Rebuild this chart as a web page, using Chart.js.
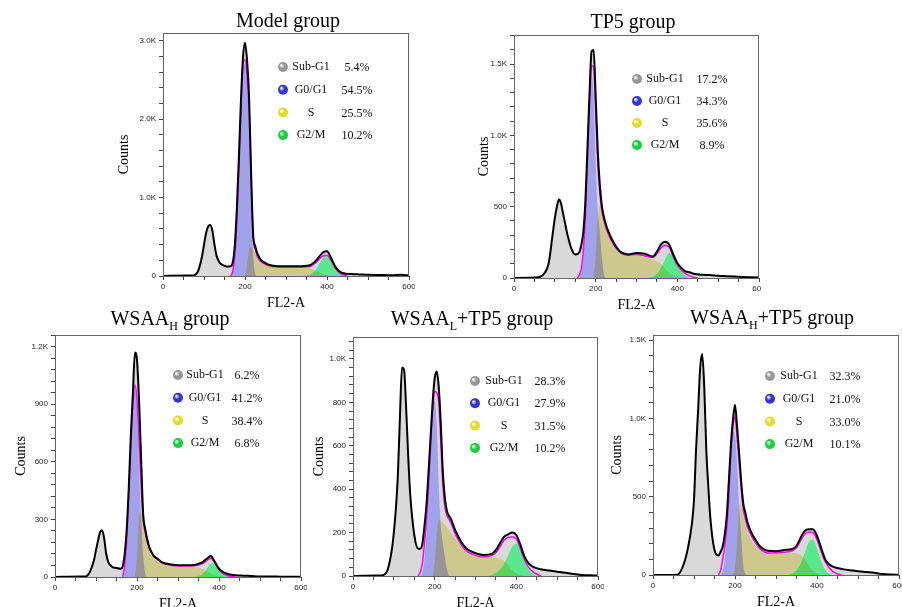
<!DOCTYPE html>
<html>
<head>
<meta charset="utf-8">
<title>Cell cycle histograms</title>
<script src="https://cdn.jsdelivr.net/npm/chart.js@4.4.0/dist/chart.umd.min.js"></script>
<style>
  html, body { margin: 0; padding: 0; background: #fff; overflow: hidden; }
  body { width: 902px; height: 607px; position: relative; }
  .title {
    position: absolute; width: 300px; text-align: center; white-space: nowrap;
    font-family: 'Liberation Serif', 'Times New Roman', serif; font-size: 20px; line-height: 23px; color: #000;
  }
  .title sub { font-size: 12px; vertical-align: -5px; line-height: 0; }
</style>
</head>
<body>
<div class="title" style="left:138px; top:9px">Model group</div>
<div class="title" style="left:483px; top:10px">TP5 group</div>
<div class="title" style="left:20px; top:307px">WSAA<sub>H</sub> group</div>
<div class="title" style="left:322px; top:307px">WSAA<sub>L</sub>+TP5 group</div>
<div class="title" style="left:622px; top:306px">WSAA<sub>H</sub>+TP5 group</div>
<script>
const phases = ['Sub-G1', 'G0/G1', 'S', 'G2/M'];

// FL2-A channels where each curve is sampled
const gridTotal = [0, 60, 75, 85, 95, 100, 105, 110, 115, 120,
  125, 130, 135, 140, 150, 160, 165, 170, 175, 180,
  185, 190, 195, 200, 205, 210, 215, 220, 225, 230,
  240, 250, 260, 270, 280, 300, 320, 340, 350, 360,
  370, 380, 390, 400, 410, 420, 430, 440, 460, 480,
  500, 520, 540, 560, 580, 600];
const gridFit = [155, 160, 165, 170, 175, 180, 185, 190, 195, 200,
  205, 210, 215, 220, 225, 230, 240, 250, 260, 270,
  280, 300, 320, 340, 350, 360, 370, 380, 390, 400,
  410, 420, 430, 440, 450, 460];
const gridG1 = [160, 165, 170, 175, 180, 185, 190, 195, 200, 205, 210, 215, 220, 225, 230, 235];
const gridS = [195, 200, 205, 210, 215, 220, 230, 240, 260, 280, 300, 320, 340, 350, 360, 370, 380, 390, 400, 410, 420];
const gridG2 = [330, 340, 350, 360, 370, 380, 390, 400, 410, 420, 430, 440, 450];

// Model group
const modelPct = [5.4, 54.5, 25.5, 10.2];
const modelTotal = [0, 5, 8, 55, 245, 400, 545, 630, 651, 590,
  420, 270, 200, 160, 130, 120, 125, 170, 380, 850,
  1500, 2225, 2780, 2975, 2750, 2280, 1300, 523, 380, 290,
  200, 165, 140, 130, 125, 125, 125, 125, 130, 140,
  180, 240, 300, 315, 230, 120, 60, 35, 25, 20,
  15, 13, 12, 10, 15, 8];
const modelFit = [null, null, 0, 60, 250, 700, 1350, 2100, 2700, 2760,
  2550, 2100, 1200, 480, 340, 250, 180, 150, 130, 120,
  115, 115, 115, 115, 118, 125, 160, 210, 255, 265,
  195, 100, 40, 15, 0, null];
const modelG1 = [0, 0, 40, 220, 680, 1320, 2050, 2650, 2700, 2450, 1900, 900, 250, 30, 0, 0];
const modelS = [0, 0, 150, 330, 375, 340, 240, 170, 130, 115, 112, 112, 108, 105, 95, 75, 50, 25, 10, 0, 0];
const modelG2 = [0, 0, 5, 20, 60, 140, 230, 260, 185, 90, 35, 10, 0];

// TP5 group
const tp5Pct = [17.2, 34.3, 35.6, 8.9];
const tp5Total = [0, 5, 35, 105, 315, 420, 500, 550, 525, 455,
  385, 315, 260, 210, 165, 180, 235, 330, 550, 920,
  1300, 1590, 1600, 1280, 900, 660, 510, 430, 375, 335,
  270, 220, 185, 172, 165, 175, 170, 150, 185, 235,
  255, 235, 165, 105, 70, 47, 40, 30, 23, 21,
  16, 13, 10, 7, 5, 3];
const tp5Fit = [0, 20, 70, 200, 440, 850, 1230, 1490, 1480, 1170,
  820, 600, 475, 410, 355, 315, 255, 210, 180, 165,
  160, 165, 155, 145, 170, 210, 230, 215, 150, 90,
  55, 30, 15, 5, 0, null];
const tp5G1 = [0, 60, 160, 400, 800, 1200, 1420, 1280, 820, 480, 330, 150, 30, 0, 0, 0];
const tp5S = [0, 150, 420, 510, 470, 410, 330, 240, 175, 155, 155, 148, 130, 115, 100, 65, 35, 15, 5, 0, 0];
const tp5G2 = [0, 10, 30, 70, 130, 175, 145, 85, 45, 15, 0, 0, 0];

// WSAA-H group
const wsaaHPct = [6.2, 41.2, 38.4, 6.8];
const wsaaHTotal = [0, 2, 3, 26, 87, 140, 190, 234, 243, 200,
  120, 78, 62, 52, 47, 43, 55, 120, 250, 470,
  740, 960, 1170, 1130, 919, 620, 330, 250, 195, 156,
  113, 95, 78, 70, 66, 61, 61, 62, 69, 78,
  95, 110, 78, 43, 26, 17, 12, 9, 7, 5,
  3, 2, 2, 1, 1, 1];
const wsaaHFit = [null, null, 0, 60, 200, 420, 680, 900, 1000, 920,
  700, 480, 300, 235, 185, 150, 110, 90, 75, 68,
  63, 58, 58, 58, 62, 70, 85, 98, 72, 38,
  18, 8, 3, 0, null, null];
const wsaaHG1 = [0, 0, 30, 150, 350, 600, 850, 980, 850, 560, 300, 110, 20, 0, 0, 0];
const wsaaHS = [0, 100, 300, 340, 290, 230, 140, 100, 72, 60, 56, 55, 52, 50, 42, 30, 17, 8, 2, 0, 0];
const wsaaHG2 = [0, 0, 5, 15, 40, 70, 70, 36, 17, 5, 0, 0, 0];

// WSAA-L + TP5 group
const wsaaLTp5Pct = [28.3, 27.9, 31.5, 10.2];
const wsaaLTp5Total = [0, 2, 5, 30, 120, 200, 310, 470, 734, 960,
  950, 780, 560, 380, 190, 125, 125, 150, 230, 330,
  480, 640, 800, 910, 942, 870, 700, 480, 360, 300,
  262, 212, 174, 143, 123, 105, 97, 102, 120, 151,
  181, 192, 200, 189, 143, 89, 58, 43, 31, 25,
  20, 15, 9, 5, 3, 2];
const wsaaLTp5Fit = [null, 0, 20, 60, 150, 260, 420, 600, 760, 850,
  845, 800, 620, 420, 320, 280, 245, 195, 160, 130,
  112, 95, 88, 95, 108, 135, 165, 178, 180, 170,
  125, 75, 40, 20, 8, 0];
const wsaaLTp5G1 = [0, 0, 20, 80, 200, 380, 580, 750, 810, 700, 420, 230, 150, 90, 30, 0];
const wsaaLTp5S = [0, 60, 180, 260, 255, 245, 225, 200, 150, 108, 92, 85, 88, 85, 80, 70, 50, 28, 12, 4, 0];
const wsaaLTp5G2 = [0, 5, 15, 30, 55, 95, 135, 148, 120, 70, 30, 10, 0];

// WSAA-H + TP5 group
const wsaaHTp5Pct = [32.3, 21.0, 33.0, 10.1];
const wsaaHTp5Total = [0, 2, 70, 170, 330, 480, 800, 1050, 1320, 1410,
  1200, 800, 560, 360, 160, 125, 150, 182, 260, 380,
  600, 830, 990, 1086, 950, 780, 600, 460, 400, 340,
  270, 225, 185, 165, 155, 152, 159, 167, 185, 238,
  281, 292, 292, 249, 174, 99, 67, 52, 39, 30,
  24, 19, 14, 6, 3, 2];
const wsaaHTp5Fit = [null, 0, 30, 100, 180, 300, 500, 780, 950, 1010,
  880, 720, 560, 420, 360, 310, 250, 205, 170, 150,
  140, 140, 145, 155, 175, 220, 260, 275, 270, 225,
  150, 85, 45, 20, 8, 0];
const wsaaHTp5G1 = [0, 0, 30, 100, 250, 450, 740, 920, 900, 720, 450, 250, 60, 10, 0, 0];
const wsaaHTp5S = [0, 50, 200, 420, 455, 390, 280, 220, 160, 130, 135, 138, 140, 138, 130, 100, 60, 25, 8, 0, 0];
const wsaaHTp5G2 = [0, 10, 30, 70, 140, 210, 225, 170, 90, 35, 10, 0, 0];

const sphereColors = ['#979797', '#3434d6', '#e2dc2c', '#1ccf3e'];

// box = plot area [left, top, right, bottom] in page pixels; cut trims the canvas' right edge
const panels = [
  { pct: modelPct, total: modelTotal, fit: modelFit, g1: modelG1, s: modelS, g2: modelG2,
    yMax: 3100, yMajor: 1000, yMinor: 200, box: [163, 33, 409, 276], titlePad: 13, legend: [120, 148, 194, 34, 22.7], cut: 0 },
  { pct: tp5Pct, total: tp5Total, fit: tp5Fit, g1: tp5G1, s: tp5S, g2: tp5G2,
    yMax: 1705, yMajor: 500, yMinor: 100, box: [514, 35, 759, 278], titlePad: 22, legend: [123, 151, 198, 44, 22], cut: 4 },
  { pct: wsaaHPct, total: wsaaHTotal, fit: wsaaHFit, g1: wsaaHG1, s: wsaaHS, g2: wsaaHG2,
    yMax: 1261, yMajor: 300, yMinor: 60, box: [55, 335, 301, 577], titlePad: 18, legend: [123, 150, 192, 40, 22.7], cut: 0 },
  { pct: wsaaLTp5Pct, total: wsaaLTp5Total, fit: wsaaLTp5Fit, g1: wsaaLTp5G1, s: wsaaLTp5S, g2: wsaaLTp5G2,
    yMax: 1101, yMajor: 200, yMinor: 40, box: [353, 337, 598, 576], titlePad: 18, legend: [122, 151, 197, 44, 22.3], cut: 0 },
  { pct: wsaaHTp5Pct, total: wsaaHTp5Total, fit: wsaaHTp5Fit, g1: wsaaHTp5G1, s: wsaaHTp5S, g2: wsaaHTp5G2,
    yMax: 1532, yMajor: 500, yMinor: 100, box: [653, 335, 899, 575], titlePad: 16, legend: [117, 146, 192, 41, 22.7], cut: 0 }
];

const tickFont = { family: 'Liberation Sans, Arial, sans-serif', size: 8 };
const axisFont = { family: 'Liberation Serif, Times New Roman, serif', size: 14 };

function pts(grid, ys) {
  return grid.map((x, i) => ({ x: x, y: ys[i] }));
}

function countLabel(v) {
  return v >= 1000 ? (v / 1000).toFixed(1) + 'K' : String(v);
}

// evenly spaced tick marks; only the major ones get a label
function tickSteps(max, step) {
  const t = [];
  for (let v = 0; v <= max + 1e-6; v += step) t.push({ value: v });
  return t;
}

// S-phase fill is multiplied onto what lies below it, so it darkens
// where it overlaps the G0/G1 and G2/M peaks
const multiplyPlugin = {
  id: 'multiplyFill',
  afterDatasetDraw(chart, args) {
    const next = chart.data.datasets[args.index - 1];
    chart.ctx.globalCompositeOperation = next && next.multiply ? 'multiply' : 'source-over';
  }
};

const framePlugin = {
  id: 'frame',
  afterDatasetsDraw(chart) {
    const { ctx, chartArea: a } = chart;
    ctx.save();
    ctx.strokeStyle = '#666';
    ctx.lineWidth = 1;
    ctx.strokeRect(a.left + 0.5, a.top + 0.5, a.right - a.left - 1, a.bottom - a.top);
    ctx.restore();
  }
};

const phaseLegend = {
  id: 'phaseLegend',
  afterDraw(chart, args, opts) {
    const { ctx, chartArea } = chart;
    const [cx, nx, px, y0, dy] = opts.pos;
    ctx.save();
    ctx.font = '12px "Liberation Serif", "Times New Roman", serif';
    ctx.textAlign = 'center';
    ctx.textBaseline = 'middle';
    phases.forEach((name, i) => {
      const y = chartArea.top + y0 + i * dy;
      const x = chartArea.left + cx;
      const g = ctx.createRadialGradient(x - 1.8, y - 1.8, 0.3, x, y, 5.5);
      g.addColorStop(0, '#ffffff');
      g.addColorStop(0.45, sphereColors[i]);
      g.addColorStop(1, sphereColors[i]);
      ctx.beginPath();
      ctx.arc(x, y, 5, 0, Math.PI * 2);
      ctx.fillStyle = g;
      ctx.fill();
      ctx.fillStyle = '#111';
      ctx.fillText(name, chartArea.left + nx, y);
      ctx.fillText(opts.values[i].toFixed(1) + '%', chartArea.left + px, y + 1);
    });
    ctx.restore();
  }
};

panels.forEach(p => {
  const [L, T, R, B] = p.box;
  const w = R - L + 66;
  const h = B - T + 42;
  const canvas = document.createElement('canvas');
  canvas.width = w;
  canvas.height = h;
  canvas.style.cssText = 'position:absolute;left:' + (L - 60) + 'px;top:' + (T - 6) + 'px;width:' + w + 'px;height:' + h + 'px;' +
    'clip-path:inset(0 ' + p.cut + 'px 0 0)';
  document.body.insertBefore(canvas, document.body.firstChild);

  const area = { pointRadius: 0, cubicInterpolationMode: 'monotone', borderWidth: 0, borderColor: 'rgba(0,0,0,0)', fill: 'origin' };

  new Chart(canvas, {
    type: 'line',
    data: {
      datasets: [
        { label: 'Total', data: pts(gridTotal, p.total), pointRadius: 0, cubicInterpolationMode: 'monotone',
          borderColor: '#000', borderWidth: 2, fill: false },
        { label: 'Fit', data: pts(gridFit, p.fit), pointRadius: 0, cubicInterpolationMode: 'monotone',
          borderColor: '#ff00ff', borderWidth: 1.5, fill: false },
        Object.assign({ label: 'S', data: pts(gridS, p.s), backgroundColor: 'rgb(241,235,164)', multiply: true }, area),
        Object.assign({ label: 'G2/M', data: pts(gridG2, p.g2), backgroundColor: 'rgb(90,232,140)' }, area),
        Object.assign({ label: 'G0/G1', data: pts(gridG1, p.g1), backgroundColor: 'rgb(160,162,235)' }, area),
        Object.assign({ label: 'Sub-G1', data: pts(gridTotal, p.total), backgroundColor: '#d9d9d9' }, area)
      ]
    },
    options: {
      responsive: false,
      animation: false,
      devicePixelRatio: 1,
      layout: { padding: { top: 6, right: 6, left: 0, bottom: 0 } },
      plugins: {
        legend: { display: false },
        tooltip: { enabled: false },
        phaseLegend: { values: p.pct, pos: p.legend }
      },
      scales: {
        x: {
          type: 'linear', min: 0, max: 600,
          afterBuildTicks(s) { s.ticks = tickSteps(600, 50); },
          ticks: { autoSkip: false, maxRotation: 0, padding: 2, font: tickFont, color: '#222',
            callback: v => (v % 200 === 0 ? String(v) : '') },
          grid: { drawOnChartArea: false, tickLength: 4, color: '#444' },
          border: { color: '#333', width: 1 },
          title: { display: true, text: 'FL2-A', font: axisFont, color: '#000', padding: { top: 0, bottom: 0 } },
          afterFit(s) { s.height = 36; s.paddingLeft = 0; s.paddingRight = 0; }
        },
        y: {
          type: 'linear', min: 0, max: p.yMax,
          afterBuildTicks(s) { s.ticks = tickSteps(p.yMax, p.yMinor); },
          ticks: { autoSkip: false, padding: 3, font: tickFont, color: '#222',
            callback: v => (Math.round(v) % p.yMajor === 0 ? countLabel(Math.round(v)) : '') },
          grid: { drawOnChartArea: false, tickLength: 4, color: '#444' },
          border: { color: '#333', width: 1 },
          title: { display: true, text: 'Counts', font: axisFont, color: '#000', padding: { top: p.titlePad, bottom: 0 } },
          afterFit(s) { s.width = 60; s.paddingTop = 0; s.paddingBottom = 0; }
        }
      }
    },
    plugins: [multiplyPlugin, framePlugin, phaseLegend]
  });
});
</script>
</body>
</html>
